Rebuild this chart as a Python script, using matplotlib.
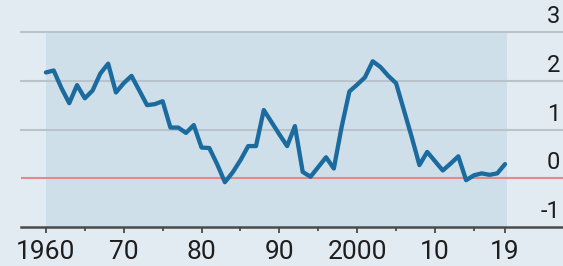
import matplotlib
matplotlib.use("Agg")
import matplotlib.pyplot as plt
from matplotlib import font_manager

# annual values, 1960-2019
years = list(range(1960, 2020))
values = [2.17, 2.21, 1.85, 1.54, 1.91, 1.64, 1.80, 2.15, 2.35, 1.76,
          1.95, 2.10, 1.80, 1.50, 1.52, 1.58, 1.04, 1.04, 0.93, 1.09,
          0.63, 0.62, 0.29, -0.08, 0.12, 0.37, 0.66, 0.66, 1.40, 1.15,
          0.90, 0.66, 1.07, 0.13, 0.03, 0.23, 0.43, 0.20, 1.05, 1.78,
          1.92, 2.07, 2.40, 2.28, 2.10, 1.95, 1.40, 0.85, 0.27, 0.54,
          0.35, 0.16, 0.30, 0.45, -0.04, 0.06, 0.10, 0.07, 0.10, 0.29]

xtick_pos = [1960, 1970, 1980, 1990, 2000, 2010, 2019]
xtick_labels = ["1960", "70", "80", "90", "2000", "10", "19"]
minor_pos = [1965, 1975, 1985, 1995, 2005, 2015]
ytick_vals = [3, 2, 1, 0, -1]

names = {f.name for f in font_manager.fontManager.ttflist}
fam = "Liberation Sans Narrow" if "Liberation Sans Narrow" in names else "Roboto"
plt.rcParams["font.family"] = [fam, "DejaVu Sans"]

bg = "#e3ebf2"
shade = "#cfdfe9"
line_col = "#1b6b9f"

fig = plt.figure(figsize=(5.63, 2.66), dpi=100, facecolor=bg)
ax = fig.add_axes([21 / 563, 39 / 266, 542 / 563, 195 / 266])
ax.set_facecolor(bg)
ax.set_xlim(1956.8, 2026.45)
ax.set_ylim(-1, 3)

ax.axvspan(1960, 2019.2, ymin=0, ymax=1, color=shade, lw=0, zorder=0)

for v in [1, 2, 3]:
    ax.axhline(v, color="#b8c3cb", lw=1.5, zorder=1, clip_on=False)
ax.axhline(0, color="#e08a8a", lw=1.5, zorder=1)

ax.plot(years, values, color=line_col, lw=3.1, solid_joinstyle="round",
        solid_capstyle="round", zorder=3)

for s in ["top", "right", "left"]:
    ax.spines[s].set_visible(False)
ax.spines["bottom"].set_color("#4a4a4a")
ax.spines["bottom"].set_linewidth(1.8)

ax.set_yticks([])
ax.set_xticks(xtick_pos)
ax.set_xticklabels(xtick_labels, fontsize=19, color="#1e1e1e")
ax.set_xticks(minor_pos, minor=True)
ax.tick_params(axis="x", which="major", length=4.5, width=1.3, color="#4a4a4a", pad=5)
ax.tick_params(axis="x", which="minor", length=3, width=1.3, color="#4a4a4a")

for v in ytick_vals:
    ax.text(0.995, v + 0.08, str(v), transform=ax.get_yaxis_transform(),
            ha="right", va="bottom", fontsize=17, color="#1e1e1e", clip_on=False)

fig.savefig("out.png", dpi=100, facecolor=bg)
